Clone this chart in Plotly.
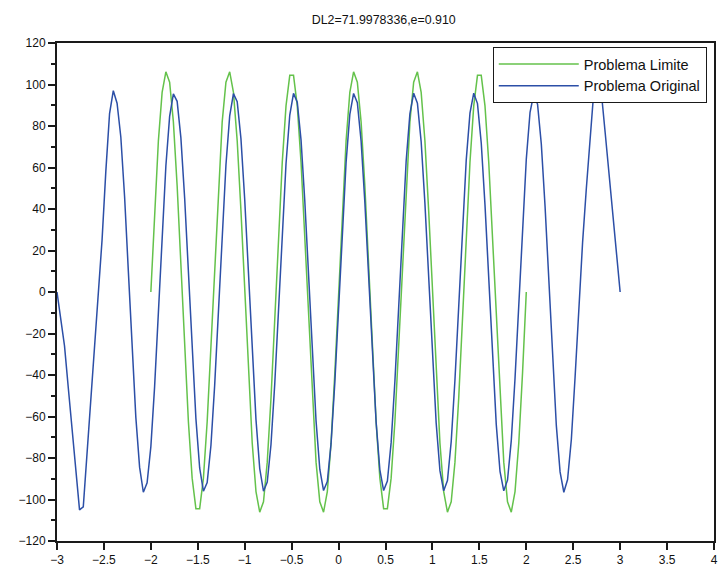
import plotly.graph_objects as go

# ---- data ----
x_limite = [round(-2 + 0.04 * i, 2) for i in range(101)]
y_limite = [
    0, 39.1, 72.8, 96.2, 106.1, 101.1, 82.0, 51.2, 13.3, -26.5,
    -62.5, -89.7, -104.4, -104.4, -89.7, -62.5, -26.5, 13.3, 51.2, 82.0,
    101.1, 106.1, 96.2, 72.8, 39.1, 0, -39.1, -72.8, -96.2, -106.1,
    -101.1, -82.0, -51.2, -13.3, 26.5, 62.5, 89.7, 104.4, 104.4, 89.7,
    62.5, 26.5, -13.3, -51.2, -82.0, -101.1, -106.1, -96.2, -72.8, -39.1,
    0, 39.1, 72.8, 96.2, 106.1, 101.1, 82.0, 51.2, 13.3, -26.5,
    -62.5, -89.7, -104.4, -104.4, -89.7, -62.5, -26.5, 13.3, 51.2, 82.0,
    101.1, 106.1, 96.2, 72.8, 39.1, 0, -39.1, -72.8, -96.2, -106.1,
    -101.1, -82.0, -51.2, -13.3, 26.5, 62.5, 89.7, 104.4, 104.4, 89.7,
    62.5, 26.5, -13.3, -51.2, -82.0, -101.1, -106.1, -96.2, -72.8, -39.1,
    0,
]

x_original = [round(-3 + 0.04 * j, 2) for j in range(151)]
y_original = [
    0, -13, -26, -46, -67, -86, -105, -103.5, -78, -55,
    -29, -2, 25, 58, 86, 97, 91, 74.7, 46.0, 10.2,
    -27.2, -60.4, -84.4, -96.5, -92.0, -74.5, -45.6, -9.8, 27.6, 60.7,
    84.6, 95.5, 91.9, 74.3, 45.3, 9.4, -27.9, -61.0, -84.8, -96.0,
    -91.8, -74.0, -44.9, -9.1, 28.3, 61.2, 84.9, 95.6, 91.7, 73.8,
    44.6, 8.7, -28.6, -61.5, -85.1, -96.0, -91.6, -73.5, -44.3, -8.3,
    29.0, 61.8, 85.3, 95.7, 91.5, 73.3, 44.0, 8.0, -29.3, -62.1,
    -85.4, -95.7, -91.4, -73.1, -43.7, -7.6, 29.7, 62.4, 85.6, 95.7,
    91.2, 72.8, 43.3, 7.2, -30.0, -62.7, -85.7, -95.7, -91.1, -72.6,
    -43.0, -6.8, 30.4, 63.0, 85.9, 95.8, 91.0, 72.4, 42.7, 6.5,
    -30.7, -63.2, -86.1, -95.8, -90.9, -72.1, -42.4, -6.1, 31.1, 63.5,
    86.2, 95.8, 90.8, 71.9, 42.0, 5.7, -31.4, -63.8, -86.4, -95.8,
    -90.7, -71.6, -41.7, -5.4, 31.8, 64.0, 86.6, 95.5, 90.5, 71.4,
    41.3, 5.0, -32.1, -64.3, -86.7, -96.5, -90.4, -71.1, -41.0, -5,
    24, 50, 76, 97, 104, 96, 77, 58, 39, 20,
    0,
]

title_text = "DL2=71.9978336,e=0.910"
name_limite = "Problema Limite"
name_original = "Problema Original"

FONT = "Liberation Sans, Arial, Helvetica, sans-serif"

fig = go.Figure()
fig.add_trace(go.Scatter(x=x_limite, y=y_limite, mode="lines", name=name_limite,
                         line=dict(color="#64c24b", width=1.5)))
fig.add_trace(go.Scatter(x=x_original, y=y_original, mode="lines", name=name_original,
                         line=dict(color="#2c4fa7", width=1.5)))

axis_common = dict(
    showgrid=False, zeroline=False, showline=True, linecolor="#1a1a1a", linewidth=2,
    mirror=True, ticks="outside", tickcolor="#1a1a1a", tickwidth=1.5, ticklen=7,
    tickfont=dict(family=FONT, size=12, color="#111"),
)

fig.update_layout(
    width=720, height=569,
    margin=dict(l=57, r=2, t=43, b=28),
    paper_bgcolor="white", plot_bgcolor="white",
    title=dict(text=title_text, x=0.533, xanchor="center", y=0.966, yanchor="middle",
               font=dict(family=FONT, size=12.4, color="#111")),
    xaxis=dict(range=[-3, 4], dtick=0.5, tick0=-3, **axis_common),
    yaxis=dict(range=[-120, 120], dtick=20, tick0=-120,
               minor=dict(dtick=10, ticks="outside", ticklen=4, tickcolor="#1a1a1a", tickwidth=1.5),
               **axis_common),
    legend=dict(x=0.989, xanchor="right", y=0.992, yanchor="top",
                bgcolor="white", bordercolor="#1a1a1a", borderwidth=1,
                font=dict(family=FONT, size=14.5, color="#111"),
                itemwidth=80, tracegroupgap=0),
    showlegend=True,
)

fig.write_html("out.html")
